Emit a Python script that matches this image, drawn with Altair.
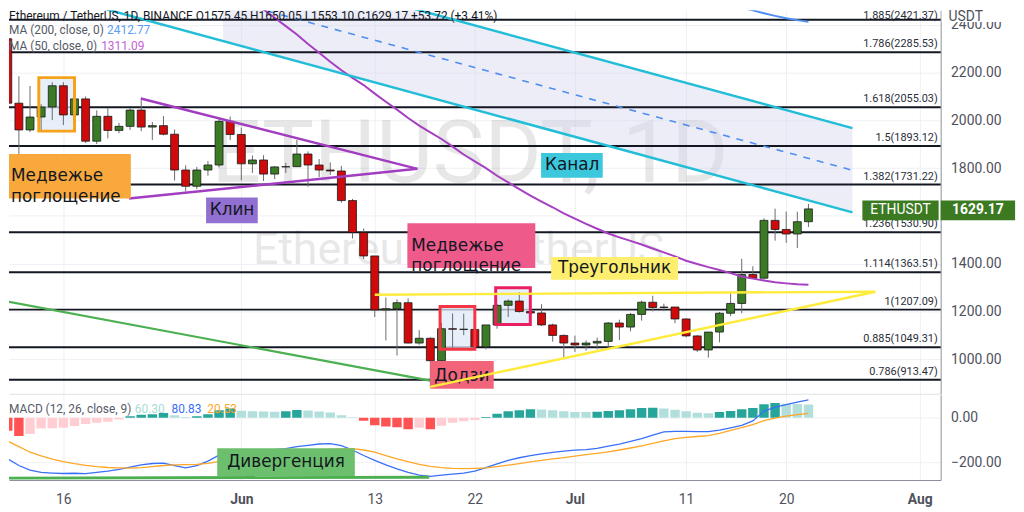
import altair as alt
import pandas as pd

# ---------------- data ----------------
FIRST_DAY = "2022-05-11"
opens = [2342, 2072, 1960, 2014, 2056, 2145, 2023, 2090, 1913, 2017, 1958, 1975, 2043, 1972, 1978, 1942, 1792, 1724, 1792, 1813, 1996,
         1941, 1818, 1834, 1775, 1805, 1806, 1859, 1813, 1792, 1788, 1664, 1530, 1432, 1206, 1211, 1236, 1067, 1087, 993, 1127,
         1125, 1124, 1051, 1143, 1225, 1243, 1199, 1193, 1143, 1099,
         1067, 1059, 1067, 1074, 1151, 1134, 1187, 1238, 1216, 1218, 1168, 1097, 1038, 1113, 1192, 1233, 1354, 1339, 1581, 1543,
         1524, 1575.45]
highs = [2450, 2185, 2144, 2068, 2160, 2160, 2115, 2100, 2042, 2053, 1989, 2051, 2085, 1993, 2018, 1962, 1812, 1805, 1830, 2012, 2016,
         1970, 1853, 1854, 1808, 1822, 1918, 1870, 1838, 1824, 1809, 1671, 1547, 1432, 1258, 1250, 1254, 1121, 1091, 1152, 1191,
         1190, 1132, 1143, 1230, 1250, 1280, 1236, 1230, 1148, 1103,
         1098, 1078, 1090, 1155, 1165, 1193, 1245, 1265, 1232, 1218, 1170, 1100, 1113, 1197, 1280, 1420, 1389, 1590, 1630, 1618,
         1617, 1650.05]
lows = [1950, 1704, 1951, 1955, 2002, 1980, 2011, 1905, 1901, 1925, 1946, 1960, 1955, 1918, 1937, 1748, 1702, 1712, 1768, 1803, 1918,
        1749, 1780, 1746, 1754, 1780, 1806, 1722, 1763, 1771, 1655, 1505, 1419, 1176, 1078, 1015, 1065, 1060, 881, 965, 1048,
        1100, 1042, 1040, 1127, 1176, 1195, 1170, 1138, 1073, 1000,
        1030, 1035, 1041, 1052, 1080, 1116, 1161, 1200, 1201, 1150, 1091, 1030, 1006, 1070, 1180, 1192, 1336, 1334, 1496, 1487,
        1465, 1553.10]
closes = [2072, 1960, 2014, 2056, 2145, 2023, 2090, 1913, 2017, 1958, 1975, 2043, 1972, 1978, 1942, 1792, 1724, 1792, 1813, 1996, 1941,
          1818, 1834, 1775, 1805, 1806, 1859, 1813, 1792, 1788, 1664, 1530, 1432, 1206, 1211, 1236, 1067, 1087, 993, 1127, 1125,
          1124, 1051, 1143, 1225, 1243, 1199, 1193, 1143, 1099, 1067,
          1059, 1067, 1074, 1151, 1134, 1187, 1238, 1216, 1218, 1168, 1097, 1038, 1113, 1192, 1233, 1354, 1339, 1581, 1543, 1524,
          1575.45, 1629.17]

MA50_FIRST = "2022-06-02"
ma50 = [2500, 2465, 2430, 2395, 2360, 2320, 2283, 2246, 2210, 2178, 2148, 2112, 2078, 2045, 2010, 1978, 1950, 1922, 1890,
        1857, 1828, 1800, 1768, 1740, 1712, 1685, 1660, 1636, 1610,
        1588, 1566, 1546, 1526, 1510, 1495, 1480, 1463, 1447, 1430, 1412, 1398, 1385, 1373, 1360, 1346, 1337, 1329, 1322,
        1317, 1313, 1311.09]
MA200_FIRST = "2022-07-13"
ma200 = [2510, 2497, 2484, 2472, 2461, 2449, 2438, 2428, 2420, 2412.77]

macd_line = [-185, -215, -236, -246, -249, -251, -250, -252, -246, -240, -232, -222, -212, -206, -204, -215, -226, -215, -195, -168, -160,
             -158, -154, -148, -143, -139, -130, -124, -118, -116, -125, -145, -170, -192, -212, -230, -246, -258, -264, -258, -254,
             -249, -240, -225, -208, -192, -180, -170, -162, -156, -150,
             -146, -143, -138, -128, -118, -106, -94, -78, -63, -61, -61, -62, -62, -55, -45, -34, -14, 30, 48, 60, 71, 80.83]
signal_line = [-105, -130, -155, -172, -186, -198, -207, -214, -220, -224, -226, -227, -225, -220, -215, -212, -211, -210, -205, -196, -185,
               -178, -172, -166, -160, -155, -150, -147, -144, -142, -140, -139, -145, -155, -170, -185, -198, -210, -219, -225, -228,
               -229, -228, -226, -220, -213, -206, -199, -192, -185, -179,
               -173, -166, -160, -153, -145, -136, -126, -115, -104, -94, -88, -84, -80, -70, -56, -44, -30, -12, -1, 8, 15, 20.53]
macd_hist = [-58, -82, -73, -48, -47, -45, -37, -28, -22, -18, -7, 7, 14, 16, 22, 12, 4, 7, 16, 34, 42,
             32, 30, 29, 28, 30, 35, 33, 29, 24, 12, 3, -13, -33, -39, -42, -51, -45, -51, -36, -22,
             -15, -10, 4, 19, 30, 34, 39, 38, 34, 30,
             27, 26, 28, 31, 34, 39, 44, 46, 42, 37, 30, 23, 21, 27, 31, 39, 45, 61, 67, 64, 63, 60.30]

fib_ratios = ["1.885", "1.786", "1.618", "1.5", "1.382", "1.236", "1.114", "1", "0.885", "0.786"]
fib_prices = [2421.37, 2285.53, 2055.03, 1893.12, 1731.22, 1530.90, 1363.51, 1207.09, 1049.31, 913.47]

x_tick_days = ["2022-05-16", "2022-06-01", "2022-06-13", "2022-06-22", "2022-07-01", "2022-07-11", "2022-07-20", "2022-08-01"]
price_ticks = [1000, 1200, 1400, 1600, 1800, 2000, 2200, 2400]
macd_ticks = [-200, 0]

# ---------------- tables ----------------
n = len(closes)
days = pd.date_range(FIRST_DAY, periods=n, freq="D").strftime("%Y-%m-%d").tolist()
candles = pd.DataFrame({"date": days, "open": opens, "high": highs, "low": lows, "close": closes})
candles["dir"] = ["up" if c >= o else "down" for o, c in zip(opens, closes)]

ma50_df = pd.DataFrame({"date": pd.date_range(MA50_FIRST, periods=len(ma50), freq="D").strftime("%Y-%m-%d"), "v": ma50})
ma200_df = pd.DataFrame({"date": pd.date_range(MA200_FIRST, periods=len(ma200), freq="D").strftime("%Y-%m-%d"), "v": ma200})

macd_df = pd.DataFrame({"date": days, "macd": macd_line, "signal": signal_line, "hist": macd_hist})
hcol = []
prev = 0
for h in macd_hist:
    if h >= 0:
        hcol.append("#26a69a" if h > prev else "#b2dfdb")
    else:
        hcol.append("#ff5252" if h < prev else "#ffcdd2")
    prev = h
macd_df["hc"] = hcol

fib = pd.DataFrame({"ratio": fib_ratios, "price": fib_prices})
fib["label"] = [f"{r}({p:.2f})" for r, p in zip(fib_ratios, fib_prices)]
fib_top = fib.iloc[[0]]
fib_rest = fib.iloc[1:]

# annotation geometry (dates / prices)
channel = pd.DataFrame({
    "date": ["2022-05-17T12:40:00Z", "2022-07-25T23:00:00Z"],
    "lower": [2494.9, 1614.4], "mid": [2671.4, 1790.9], "upper": [2847.9, 1967.4]})
channel_fill = pd.DataFrame({
    "date": ["2022-05-30T08:40:00Z", "2022-07-25T23:00:00Z"],
    "lower": [2332.2, 1614.4], "upper": [2685.2, 1967.4]})

wedge = pd.DataFrame({
    "seg": ["u", "u", "l", "l"],
    "date": ["2022-05-22T23:00:00Z", "2022-06-16T20:00:00Z", "2022-05-21T21:30:00Z", "2022-06-16T20:00:00Z"],
    "price": [2092, 1797, 1672.6, 1797]})
triangle = pd.DataFrame({
    "seg": ["u", "u", "l", "l"],
    "date": ["2022-06-13T00:00:00Z", "2022-07-28T00:15:00Z", "2022-06-17T23:45:00Z", "2022-07-28T00:15:00Z"],
    "price": [1269.7, 1282.2, 883.5, 1282.2]})
green_line = pd.DataFrame({"date": ["2022-05-10T10:00:00Z", "2022-06-17T23:45:00Z"], "price": [1246, 909.7]})

boxes = pd.DataFrame({
    "x1": ["2022-05-13T19:00:00Z", "2022-06-18T21:00:00Z", "2022-06-23T21:00:00Z"],
    "x2": ["2022-05-17T00:00:00Z", "2022-06-22T00:00:00Z", "2022-06-26T23:45:00Z"],
    "y1": [2179.2, 1219.9, 1298.8], "y2": [1955.0, 1041.3, 1145.1],
    "stroke": ["#f7a21b", "#f23645", "#e91e63"]})

labels = pd.DataFrame({
    "text": ["Медвежье\nпоглощение", "Клин", "Канал", "Медвежье\nпоглощение", "Треугольник", "Додзи"],
    "x1": ["2022-05-10T22:20:00Z", "2022-05-28T20:00:00Z", "2022-06-27T23:00:00Z", "2022-06-15T22:30:00Z",
           "2022-06-28T20:40:00Z", "2022-06-17T23:45:00Z"],
    "x2": ["2022-05-22T01:40:00Z", "2022-06-02T11:30:00Z", "2022-07-03T12:00:00Z", "2022-06-27T10:30:00Z",
           "2022-07-10T06:30:00Z", "2022-06-23T16:45:00Z"],
    "y1": [1859.5, 1676.7, 1863.6, 1568.7, 1427.5, 991.5],
    "y2": [1672.6, 1568.7, 1759.8, 1381.9, 1332.0, 875.2],
    "tx": ["2022-05-11T07:00:00Z", "2022-05-31T04:00:00Z", "2022-06-30T18:00:00Z", "2022-06-16T07:00:00Z",
           "2022-07-04T13:40:00Z", "2022-06-20T20:00:00Z"],
    "ty": [1766, 1622.7, 1811.7, 1475.3, 1379.8, 929.2],
    "align": ["left", "center", "center", "left", "center", "center"],
    "fill": ["#f9a93c", "#9270d1", "#3cc8dc", "#ee5a8a", "#fdee6e", "#f2647a"]})

tags = pd.DataFrame({
    "x1": ["2022-07-26T20:25:00Z", "2022-08-02T21:20:00Z"],
    "x2": ["2022-08-02T17:00:00Z", "2022-08-09T14:00:00Z"],
    "tx": ["2022-07-30T06:45:00Z", "2022-08-06T05:40:00Z"],
    "text": ["ETHUSDT", "1629.17"]})

# ---------------- scales / axes ----------------
FONT = "Roboto"
GRID = "#eef0f4"
AXC = "#8c8f99"
LBL = "#4e515c"
LEFT = alt.DateTime(year=2022, month=5, date=11, hours=2, minutes=38, utc=True)
RIGHT = alt.DateTime(year=2022, month=8, date=2, hours=21, minutes=22, utc=True)
xscale = alt.Scale(type="utc", domain=[LEFT, RIGHT], padding=0)


def dt(s):
    y, m, d = (int(v) for v in s.split("-"))
    return alt.DateTime(year=y, month=m, date=d, utc=True)


xticks = [dt(s) for s in x_tick_days]
yscale = alt.Scale(domain=[854.4, 2461.6], nice=False, zero=False, padding=0)
mscale = alt.Scale(domain=[-280.5, 104.2], nice=False, zero=False, padding=0)

ax_px = alt.Axis(values=xticks, labels=False, ticks=False, domain=True, domainColor="#dfe1e6",
                 grid=True, gridColor=GRID, title=None)
ax_py = alt.Axis(orient="right", values=price_ticks, format=".2f", grid=True, gridColor=GRID, ticks=False,
                 domain=True, domainColor=AXC, labelPadding=10, labelFont=FONT, labelFontSize=14,
                 labelColor=LBL, title=None)
ax_mx = alt.Axis(values=xticks, grid=True, gridColor=GRID, ticks=False, domain=True, domainColor=AXC,
                 labelPadding=13, labelFont=FONT, labelFontSize=14, labelColor=LBL, title=None,
                 labelExpr="utcdate(datum.value) == 1 ? utcFormat(datum.value, '%b') : utcFormat(datum.value, '%-d')",
                 labelFontWeight={"condition": {"test": "utcdate(datum.value) == 1", "value": "bold"}, "value": "normal"})
ax_my = alt.Axis(orient="right", values=macd_ticks, format=".2f", grid=True, gridColor=GRID, ticks=False,
                 domain=True, domainColor=AXC, labelPadding=10, labelFont=FONT, labelFontSize=14,
                 labelColor=LBL, title=None)


def PX(f):
    return alt.X(f, type="temporal", scale=xscale, axis=ax_px)


def PY(f):
    return alt.Y(f, type="quantitative", scale=yscale, axis=ax_py)


def MX(f):
    return alt.X(f, type="temporal", scale=xscale, axis=ax_mx)


def MY(f):
    return alt.Y(f, type="quantitative", scale=mscale, axis=ax_my)


FIB_X = alt.DateTime(year=2022, month=8, date=2, hours=15, utc=True)

# ---------------- price pane ----------------
wm1 = pd.DataFrame({"date": ["2022-06-21T13:30:00Z"], "price": [1851.0], "text": ["ETHUSDT, 1D"]})
wm2 = pd.DataFrame({"date": ["2022-06-20T12:45:00Z"], "price": [1456.6], "text": ["Ethereum / TetherUS"]})
watermark1 = alt.Chart(wm1).mark_text(font=FONT, fontSize=88, color="#000000", opacity=0.09,
                                      baseline="middle", align="center", clip=True).encode(
    x=PX("date"), y=PY("price"), text="text:N")
watermark2 = alt.Chart(wm2).mark_text(font=FONT, fontSize=45, color="#000000", opacity=0.09,
                                      baseline="middle", align="center", clip=True).encode(
    x=PX("date"), y=PY("price"), text="text:N")

chan_fill = alt.Chart(channel_fill).mark_area(color="#d6d6f0", opacity=0.45, clip=True).encode(
    x=PX("date"), y=PY("lower"), y2=alt.Y2("upper"))

fib_rules = alt.Chart(fib).mark_rule(color="#131722", strokeWidth=2).encode(y=PY("price"))
fib_text = alt.Chart(fib_rest).mark_text(align="right", baseline="alphabetic", dy=-5, fontSize=11, font=FONT,
                                         color="#2a2e39", clip=True).encode(
    x=alt.datum(FIB_X), y=PY("price"), text="label:N")
fib_text_top = alt.Chart(fib_top).mark_text(align="right", baseline="top", dy=0, fontSize=11, font=FONT,
                                            color="#2a2e39").encode(
    x=alt.datum(FIB_X), y=alt.datum(2461.6), text="label:N")

box_fill = alt.Chart(boxes).mark_rect(color="#dfe9f8", opacity=0.75, clip=True).encode(
    x=PX("x1"), x2=alt.X2("x2"), y=PY("y1"), y2=alt.Y2("y2"))
box_stroke = alt.Chart(boxes).mark_rect(fillOpacity=0, strokeWidth=3, clip=True).encode(
    x=PX("x1"), x2=alt.X2("x2"), y=PY("y1"), y2=alt.Y2("y2"),
    stroke=alt.Stroke("stroke:N", scale=None, legend=None))

wicks = alt.Chart(candles).mark_rule(color="#6a6a6a", strokeWidth=1, clip=True).encode(
    x=PX("date"), y=PY("low"), y2=alt.Y2("high"))
bodies = alt.Chart(candles).mark_bar(size=8, stroke="#1a1a1a", strokeWidth=0.8, clip=True).encode(
    x=PX("date"), y=PY("open"), y2=alt.Y2("close"),
    color=alt.Color("dir:N", scale=alt.Scale(domain=["up", "down"], range=["#3b7b26", "#d00a0a"]), legend=None))

ma50_line = alt.Chart(ma50_df).mark_line(color="#a63fc2", strokeWidth=2, clip=True).encode(x=PX("date"), y=PY("v"))
ma200_line = alt.Chart(ma200_df).mark_line(color="#4f8ff2", strokeWidth=2, clip=True).encode(x=PX("date"), y=PY("v"))

chan_low = alt.Chart(channel).mark_line(color="#22bdd6", strokeWidth=2.5, clip=True).encode(x=PX("date"), y=PY("lower"))
chan_up = alt.Chart(channel).mark_line(color="#22bdd6", strokeWidth=2.5, clip=True).encode(x=PX("date"), y=PY("upper"))
chan_mid = alt.Chart(channel).mark_line(color="#4d8ef0", strokeWidth=1.6, strokeDash=[7, 7], clip=True).encode(
    x=PX("date"), y=PY("mid"))

wedge_l = alt.Chart(wedge).mark_line(color="#a23cc0", strokeWidth=2.5, clip=True).encode(
    x=PX("date"), y=PY("price"), detail="seg:N")
tri_l = alt.Chart(triangle).mark_line(color="#ffeb3b", strokeWidth=2.5, clip=True).encode(
    x=PX("date"), y=PY("price"), detail="seg:N")
green_l = alt.Chart(green_line).mark_line(color="#4caf50", strokeWidth=2.2, clip=True).encode(
    x=PX("date"), y=PY("price"))

lab_rect = alt.Chart(labels).mark_rect(clip=True).encode(
    x=PX("x1"), x2=alt.X2("x2"), y=PY("y1"), y2=alt.Y2("y2"),
    color=alt.Color("fill:N", scale=None, legend=None))
lab_left = alt.Chart(labels[labels["align"] == "left"]).mark_text(
    align="left", baseline="middle", font="DejaVu Sans", fontSize=17, lineBreak="\n", lineHeight=21,
    color="#131722", clip=True).encode(x=PX("tx"), y=PY("ty"), text="text:N")
lab_center = alt.Chart(labels[labels["align"] == "center"]).mark_text(
    align="center", baseline="middle", font="DejaVu Sans", fontSize=17, color="#131722", clip=True).encode(
    x=PX("tx"), y=PY("ty"), text="text:N")

tag_rect = alt.Chart(tags).mark_rect(color="#3c7a22").encode(
    x=PX("x1"), x2=alt.X2("x2"), y=alt.datum(1664.3), y2=alt.datum(1581.2))
tag_text1 = alt.Chart(tags.iloc[[0]]).mark_text(color="white", font=FONT, fontSize=14, baseline="middle").encode(
    x=PX("tx"), y=alt.datum(1622.7), text="text:N")
tag_text2 = alt.Chart(tags.iloc[[1]]).mark_text(color="white", font=FONT, fontSize=14, fontWeight="bold",
                                                baseline="middle").encode(
    x=PX("tx"), y=alt.datum(1622.7), text="text:N")

usdt_bg = alt.Chart(pd.DataFrame({"a": [0]})).mark_rect(color="white").encode(
    x=alt.datum(alt.DateTime(year=2022, month=8, date=2, hours=23, minutes=30, utc=True)),
    x2=alt.datum(alt.DateTime(year=2022, month=8, date=9, hours=14, utc=True)),
    y=alt.datum(2461.6), y2=alt.datum(2411.8))
usdt_txt = alt.Chart(pd.DataFrame({"a": [0]})).mark_text(
    text="USDT", align="left", baseline="middle", font=FONT, fontSize=14, color=LBL).encode(
    x=alt.datum(alt.DateTime(year=2022, month=8, date=3, hours=14, minutes=24, utc=True)),
    y=alt.datum(2432.5))

one = pd.DataFrame({"a": [0]})


def legend_text(txt, x, y, color, size=12):
    return alt.Chart(one).mark_text(text=txt, align="left", baseline="middle", font=FONT, fontSize=size,
                                    color=color).encode(x=alt.value(x), y=alt.value(y))


header = [
    legend_text("Ethereum / TetherUS, 1D, BINANCE  O1575.45  H1650.05  L1553.10  C1629.17  +53.72 (+3.41%)",
                0, 6, "#131722"),
    legend_text("MA (200, close, 0)", 0, 20, "#555a66"),
    legend_text("2412.77", 99, 20, "#5b9cf6"),
    legend_text("MA (50, close, 0)", 0, 36, "#555a66"),
    legend_text("1311.09", 93, 36, "#c45fd6"),
]

price = alt.layer(
    watermark1, watermark2, chan_fill, fib_rules, fib_text, fib_text_top, box_fill, wicks, bodies, box_stroke,
    ma50_line, ma200_line, chan_low, chan_up, chan_mid, wedge_l, green_l,
    lab_rect, lab_left, lab_center, tri_l, tag_rect, tag_text1, tag_text2, usdt_bg, usdt_txt, *header
).properties(width=940, height=387)

# ---------------- MACD pane ----------------
div_line = pd.DataFrame({"date": ["2022-05-10T10:00:00Z", "2022-06-17T21:30:00Z"], "v": [-272, -268]})
div_label = pd.DataFrame({"x1": ["2022-05-29T20:00:00Z"], "x2": ["2022-06-11T05:00:00Z"], "y1": [-137.4],
                          "y2": [-262.6], "tx": ["2022-06-05T00:30:00Z"], "ty": [-201], "text": ["Дивергенция"]})

hist = alt.Chart(macd_df).mark_bar(size=9.5, clip=True).encode(
    x=MX("date"), y=MY("hist"), y2=alt.datum(0), color=alt.Color("hc:N", scale=None, legend=None))
macd_l = alt.Chart(macd_df).mark_line(color="#3a6ff7", strokeWidth=1.3, clip=True).encode(x=MX("date"), y=MY("macd"))
sig_l = alt.Chart(macd_df).mark_line(color="#ffa726", strokeWidth=1.3, clip=True).encode(x=MX("date"), y=MY("signal"))
div_l = alt.Chart(div_line).mark_line(color="#4caf50", strokeWidth=3, clip=True).encode(x=MX("date"), y=MY("v"))
div_r = alt.Chart(div_label).mark_rect(color="#6cbf6c", clip=True).encode(
    x=MX("x1"), x2=alt.X2("x2"), y=MY("y1"), y2=alt.Y2("y2"))
div_t = alt.Chart(div_label).mark_text(font="DejaVu Sans", fontSize=17, color="#131722", baseline="middle").encode(
    x=MX("tx"), y=MY("ty"), text="text:N")

macd_legend = [
    legend_text("MACD (12, 26, close, 9)", 0, 14, "#555a66"),
    legend_text("60.30", 127, 14, "#a8dcd5"),
    legend_text("80.83", 164, 14, "#3a6ff7"),
    legend_text("20.53", 200, 14, "#ffa726"),
]

macd = alt.layer(hist, macd_l, sig_l, div_l, div_r, div_t, *macd_legend).properties(width=940, height=86)

chart = alt.vconcat(price, macd, spacing=1).properties(padding=0, background="white").configure_view(stroke=None)

chart.save("out.html", embed_options={"renderer": "svg", "actions": False})
